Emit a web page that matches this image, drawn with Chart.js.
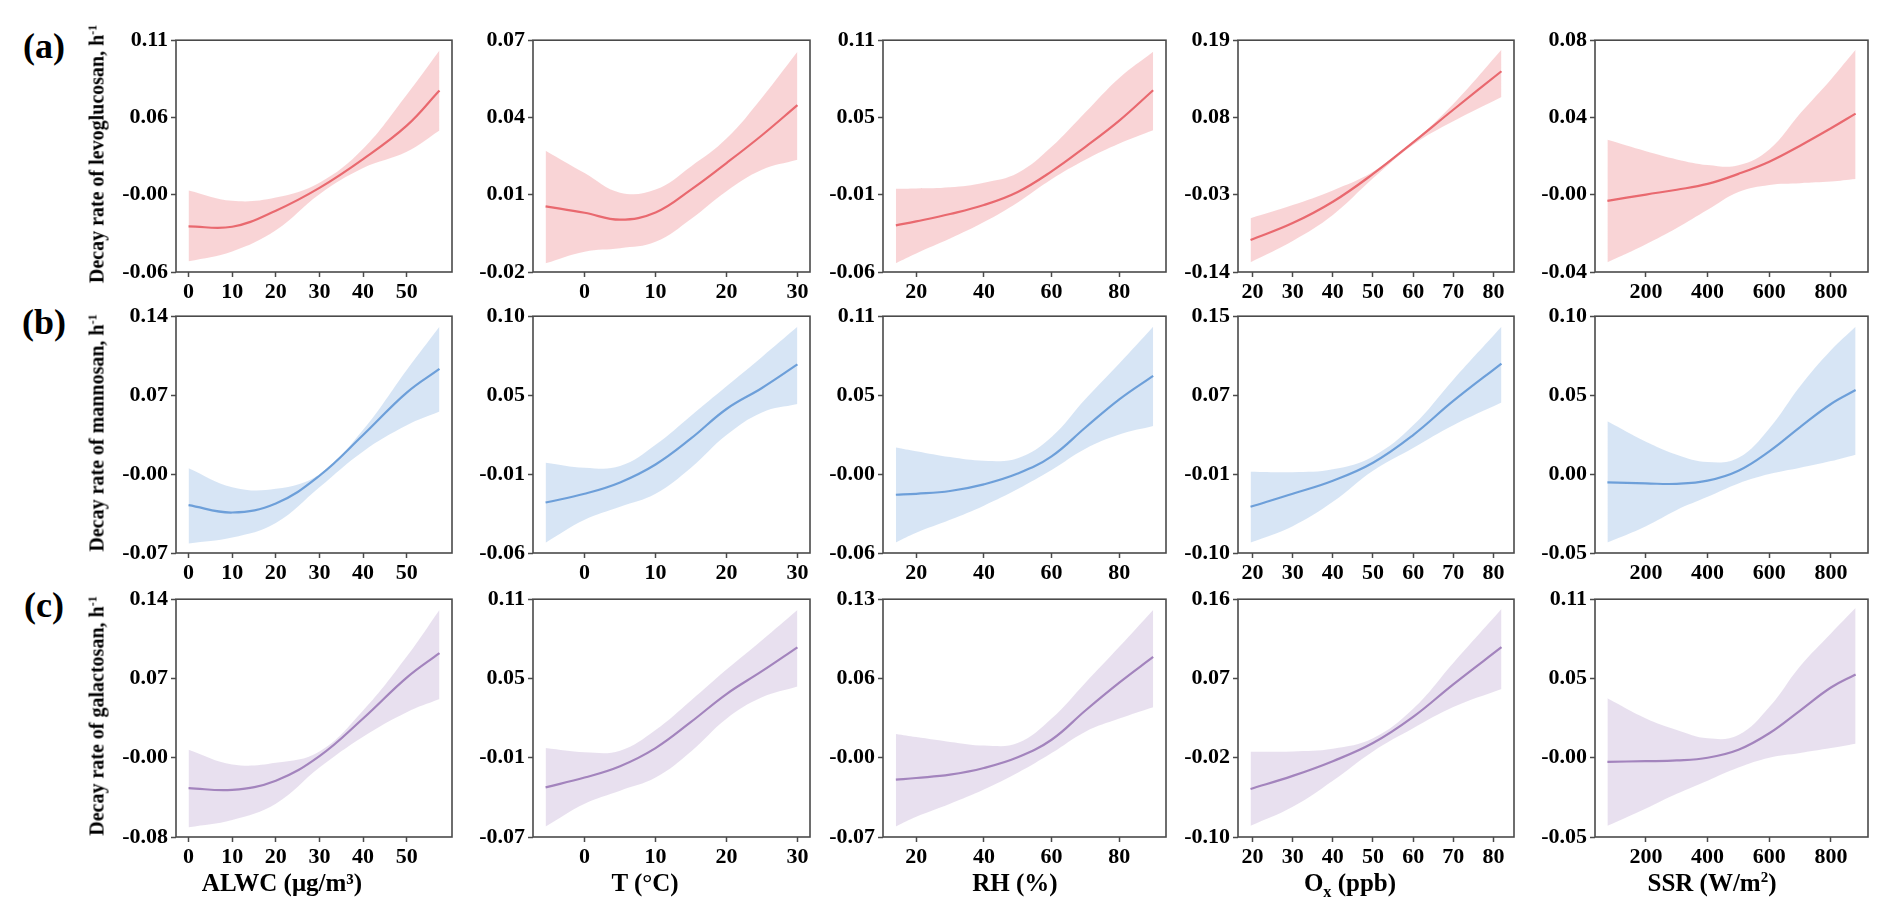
<!DOCTYPE html>
<html>
<head>
<meta charset="utf-8">
<script src="https://cdn.jsdelivr.net/npm/chart.js@4.4.1/dist/chart.umd.min.js"></script>
<style>
  body { margin: 0; background: #fff; width: 1892px; height: 923px; position: relative; overflow: hidden;
         font-family: "Liberation Serif", "Times New Roman", serif; font-weight: bold; color: #000; }
  canvas { position: absolute; }
  .txt { position: absolute; white-space: nowrap; transform: translate(-50%, -50%); }
  .ytitle { font-size: 20px; transform: translate(-50%, -50%) rotate(-90deg); }
  .xtitle { font-size: 25px; }
  .row { font-size: 36px; }
  sup { font-size: 60%; vertical-align: 0.6em; line-height: 0; }
  sub { font-size: 65%; vertical-align: -0.35em; line-height: 0; }
</style>
</head>
<body>
<script>
// x grids for each driver (same for all three compounds)
const xAlwc = [0, 10, 20, 30, 40, 50, 57.5]
const xTemp = [-5.5, 0, 5, 10, 15, 20, 25, 30]
const xRh = [14, 20, 30, 40, 50, 60, 70, 80, 90]
const xOx = [19.5, 30, 40, 50, 60, 70, 82]
const xSsr = [75, 200, 300, 400, 500, 600, 700, 800, 880]
const xGrids = [xAlwc, xTemp, xRh, xOx, xSsr]

const xTicks = [[0, 10, 20, 30, 40, 50], [0, 10, 20, 30], [20, 40, 60, 80], [20, 30, 40, 50, 60, 70, 80], [200, 400, 600, 800]]
const xTitles = ['ALWC (μg/m³)', 'T (°C)', 'RH (%)', 'O<sub>x</sub> (ppb)', 'SSR (W/m<sup>2</sup>)']
const compounds = ['levoglucosan', 'mannosan', 'galactosan']
const rowTags = ['(a)', '(b)', '(c)']

// y tick labels (4 evenly spaced ticks per panel)
const levTicks = [['-0.06', '-0.00', '0.06', '0.11'], ['-0.02', '0.01', '0.04', '0.07'], ['-0.06', '-0.01', '0.05', '0.11'], ['-0.14', '-0.03', '0.08', '0.19'], ['-0.04', '-0.00', '0.04', '0.08']]
const manTicks = [['-0.07', '-0.00', '0.07', '0.14'], ['-0.06', '-0.01', '0.05', '0.10'], ['-0.06', '-0.00', '0.05', '0.11'], ['-0.10', '-0.01', '0.07', '0.15'], ['-0.05', '0.00', '0.05', '0.10']]
const galTicks = [['-0.08', '-0.00', '0.07', '0.14'], ['-0.07', '-0.01', '0.05', '0.11'], ['-0.07', '-0.00', '0.06', '0.13'], ['-0.10', '-0.02', '0.07', '0.16'], ['-0.05', '-0.00', '0.05', '0.11']]

// levoglucosan: fitted curve, upper and lower bound
const levFit = [
  [-0.0265, -0.0268, -0.015, 0.0017, 0.0228, 0.0473, 0.0731],
  [0.0055, 0.003, 0.0003, 0.0031, 0.012, 0.0223, 0.0331, 0.0448],
  [-0.0258, -0.0229, -0.0175, -0.0109, -0.0013, 0.0138, 0.0318, 0.051, 0.0733],
  [-0.0945, -0.0704, -0.04, -0.0004, 0.0445, 0.091, 0.1458],
  [-0.0032, 0.0001, 0.0026, 0.0056, 0.0108, 0.0171, 0.0254, 0.0344, 0.042]
]
const levUpper = [
  [-0.0002, -0.0078, -0.0054, 0.0055, 0.0304, 0.070, 0.1024],
  [0.0271, 0.0184, 0.0108, 0.012, 0.021, 0.0318, 0.0477, 0.0655],
  [0.001, 0.0012, 0.0021, 0.0055, 0.0126, 0.0318, 0.0571, 0.0823, 0.1015],
  [-0.0634, -0.0446, -0.0238, 0.0026, 0.0458, 0.0993, 0.1765],
  [0.0284, 0.0225, 0.0183, 0.0154, 0.0152, 0.0234, 0.042, 0.0597, 0.075]
]
const levLower = [
  [-0.0522, -0.0449, -0.0294, -0.003, 0.0162, 0.0281, 0.0437],
  [-0.0166, -0.0121, -0.0108, -0.0083, 0.0006, 0.0114, 0.0197, 0.0236],
  [-0.0535, -0.0464, -0.0355, -0.0234, -0.009, 0.008, 0.0223, 0.0342, 0.0439],
  [-0.1261, -0.0958, -0.0588, -0.0067, 0.0412, 0.0745, 0.1092],
  [-0.035, -0.0256, -0.0172, -0.0078, 0.0014, 0.0051, 0.006, 0.0068, 0.0081]
]

// mannosan
const manFit = [
  [-0.0276, -0.0341, -0.0261, -0.0015, 0.0346, 0.0722, 0.0932],
  [-0.0259, -0.02, -0.0123, -0.0002, 0.0174, 0.0373, 0.0515, 0.0674],
  [-0.0182, -0.0175, -0.0155, -0.0107, -0.003, 0.0094, 0.0301, 0.0503, 0.0672],
  [-0.0512, -0.0375, -0.0237, -0.0047, 0.0245, 0.0605, 0.1],
  [-0.0053, -0.0059, -0.0062, -0.0042, 0.0021, 0.0144, 0.0298, 0.0444, 0.0532]
]
const manUpper = [
  [0.0052, -0.0116, -0.0131, -0.0001, 0.0392, 0.0923, 0.1306],
  [0.001, -0.0024, -0.0013, 0.0131, 0.0328, 0.0526, 0.0725, 0.0928],
  [0.0158, 0.0131, 0.0089, 0.0063, 0.008, 0.0233, 0.0505, 0.076, 0.1024],
  [-0.0142, -0.0147, -0.0117, 0.002, 0.0348, 0.083, 0.1388],
  [0.0334, 0.0205, 0.0123, 0.0076, 0.0103, 0.0289, 0.0556, 0.0784, 0.0933]
]
const manLower = [
  [-0.0616, -0.0563, -0.0433, -0.0116, 0.0201, 0.0432, 0.0554],
  [-0.053, -0.0376, -0.0288, -0.02, -0.0024, 0.0197, 0.035, 0.0406],
  [-0.0525, -0.0455, -0.0362, -0.026, -0.0141, -0.0005, 0.0148, 0.025, 0.0311],
  [-0.089, -0.0717, -0.046, -0.0132, 0.0108, 0.0348, 0.0588],
  [-0.0434, -0.033, -0.0227, -0.0144, -0.0059, 0.0, 0.004, 0.0082, 0.0123]
]

// galactosan
const galFit = [
  [-0.0347, -0.0364, -0.0279, -0.0052, 0.0296, 0.0674, 0.0901],
  [-0.0324, -0.025, -0.0164, -0.0027, 0.0171, 0.0382, 0.0555, 0.0736],
  [-0.0218, -0.0204, -0.0176, -0.012, -0.003, 0.0118, 0.0364, 0.0598, 0.0814],
  [-0.0475, -0.0332, -0.0171, 0.0027, 0.0313, 0.0669, 0.1075],
  [0.0006, 0.001, 0.0015, 0.0033, 0.0087, 0.0198, 0.0351, 0.0506, 0.0594]
]
const galUpper = [
  [0.0007, -0.0129, -0.0114, -0.0008, 0.037, 0.087, 0.1301],
  [-0.0027, -0.0059, -0.0047, 0.011, 0.0333, 0.0567, 0.079, 0.1019],
  [0.0166, 0.014, 0.01, 0.007, 0.009, 0.0296, 0.0598, 0.09, 0.121],
  [-0.0069, -0.0064, -0.0035, 0.0079, 0.0401, 0.0903, 0.1493],
  [0.0433, 0.0297, 0.022, 0.0164, 0.0186, 0.0374, 0.0649, 0.087, 0.1041]
]
const galLower = [
  [-0.071, -0.0642, -0.0492, -0.0158, 0.0128, 0.0355, 0.0476],
  [-0.0621, -0.0448, -0.0349, -0.025, -0.0052, 0.0196, 0.0357, 0.0439],
  [-0.0612, -0.053, -0.042, -0.03, -0.016, 0.0006, 0.0186, 0.0296, 0.0392],
  [-0.0878, -0.067, -0.0384, -0.0064, 0.0188, 0.042, 0.0617],
  [-0.0425, -0.0308, -0.0209, -0.0121, -0.0033, 0.0033, 0.0065, 0.0098, 0.0127]
]

const fits = [levFit, manFit, galFit]
const uppers = [levUpper, manUpper, galUpper]
const lowers = [levLower, manLower, galLower]
const yTicks = [levTicks, manTicks, galTicks]

const lineColors = ['#e8666c', '#6d9fd9', '#a384bd']
const bandColors = ['rgba(236,112,118,0.3)', 'rgba(110,160,220,0.28)', 'rgba(165,130,190,0.25)']

// plot area geometry (px)
const rowTop = [36, 312, 595], rowBottom = [272, 553, 837]
const colLeft = [176, 533, 883, 1238, 1595], colRight = [452, 810, 1166, 1514, 1868]
const titleX = [282, 645, 1015, 1350, 1712]
const PADL = 90, PADT = 12, PADR = 12, PADB = 40

const tickFont = { family: 'Liberation Serif', weight: 'bold', size: 22 }

const framePlugin = {
  id: 'frame',
  afterDraw(chart) {
    const a = chart.chartArea, ctx = chart.ctx
    ctx.save()
    ctx.strokeStyle = '#4a4a4a'
    ctx.lineWidth = 1.6
    ctx.strokeRect(a.left, a.top, a.right - a.left, a.bottom - a.top)
    ctx.restore()
  }
}

function pts(xs, ys) {
  return xs.map((x, i) => ({ x: x, y: ys[i] }))
}

function addText(html, cls, x, y) {
  const d = document.createElement('div')
  d.className = 'txt ' + cls
  d.innerHTML = html
  d.style.left = x + 'px'
  d.style.top = y + 'px'
  document.body.appendChild(d)
}

for (let r = 0; r < 3; r++) {
  for (let j = 0; j < 5; j++) {
    const xs = xGrids[j]
    const span = xs[xs.length - 1] - xs[0]
    const labels = yTicks[r][j]
    const lo = parseFloat(labels[0]), hi = parseFloat(labels[3])

    const cv = document.createElement('canvas')
    const W = colRight[j] - colLeft[j] + PADL + PADR
    const H = rowBottom[r] - rowTop[r] + PADT + PADB
    cv.width = W; cv.height = H
    cv.style.width = W + 'px'; cv.style.height = H + 'px'
    cv.style.left = (colLeft[j] - PADL) + 'px'
    cv.style.top = (rowTop[r] - PADT) + 'px'
    document.body.appendChild(cv)

    new Chart(cv, {
      type: 'line',
      data: {
        datasets: [{
          data: pts(xs, lowers[r][j]),
          borderWidth: 0, pointRadius: 0, fill: false, tension: 0.4
        }, {
          data: pts(xs, uppers[r][j]),
          borderWidth: 0, pointRadius: 0, fill: '-1', tension: 0.4,
          backgroundColor: bandColors[r]
        }, {
          data: pts(xs, fits[r][j]),
          borderColor: lineColors[r], borderWidth: 2.2, pointRadius: 0, fill: false, tension: 0.4
        }]
      },
      options: {
        responsive: false,
        animation: false,
        layout: { padding: { left: 0, top: PADT, right: PADR, bottom: 0 } },
        plugins: { legend: { display: false }, tooltip: { enabled: false } },
        scales: {
          x: {
            type: 'linear',
            min: xs[0] - 0.05 * span,
            max: xs[xs.length - 1] + 0.05 * span,
            afterBuildTicks: s => { s.ticks = xTicks[j].map(v => ({ value: v })) },
            afterFit: s => { s.height = PADB },
            border: { display: false },
            grid: { display: true, drawOnChartArea: false, drawTicks: true, tickLength: 5, tickColor: '#4a4a4a', tickWidth: 1.5 },
            ticks: { font: tickFont, color: '#000', padding: 2, maxRotation: 0, autoSkip: false }
          },
          y: {
            min: lo,
            max: hi,
            afterBuildTicks: s => { s.ticks = [0, 1, 2, 3].map(k => ({ value: lo + k * (hi - lo) / 3 })) },
            afterFit: s => { s.width = PADL },
            border: { display: false },
            grid: { display: true, drawOnChartArea: false, drawTicks: true, tickLength: 5, tickColor: '#4a4a4a', tickWidth: 1.5 },
            ticks: { font: tickFont, color: '#000', padding: 3, autoSkip: false, callback: (v, i) => labels[i] }
          }
        }
      },
      plugins: [framePlugin]
    })
  }
  addText('Decay rate of ' + compounds[r] + ', h<sup>-1</sup>', 'ytitle', 97, (rowTop[r] + rowBottom[r]) / 2)
  addText(rowTags[r], 'row', 44, rowTop[r] + 10)
}
for (let j = 0; j < 5; j++) {
  addText(xTitles[j], 'xtitle', titleX[j], 883)
}
</script>
</body>
</html>
